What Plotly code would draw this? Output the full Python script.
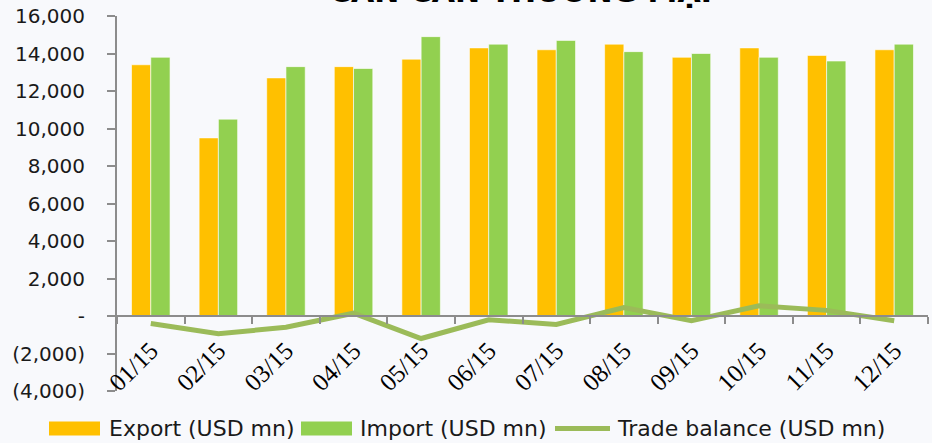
import plotly.graph_objects as go

months = ["01/15", "02/15", "03/15", "04/15", "05/15", "06/15",
          "07/15", "08/15", "09/15", "10/15", "11/15", "12/15"]
export_vals = [13400, 9500, 12700, 13300, 13700, 14300, 14200, 14500, 13800, 14300, 13900, 14200]
import_vals = [13800, 10500, 13300, 13200, 14900, 14500, 14700, 14100, 14000, 13800, 13600, 14500]
balance_vals = [-400, -950, -600, 150, -1200, -200, -450, 450, -250, 550, 300, -250]

y_tickvals = [-4000, -2000, 0, 2000, 4000, 6000, 8000, 10000, 12000, 14000, 16000]
y_ticktext = ["(4,000)", "(2,000)", "-", "2,000", "4,000", "6,000", "8,000",
              "10,000", "12,000", "14,000", "16,000"]

series_names = ["Export (USD mn)", "Import (USD mn)", "Trade balance (USD mn)"]
title_text = "CÁN CÂN THƯƠNG MẠI"

C_EXP = "#FFC000"
C_IMP = "#92D050"
C_BAL = "#9BBB59"
AXIS = "#8C8C8C"
BG = "#F8F9FC"
FONT = "DejaVu Sans"

# plot-area geometry in pixels
W, H = 932, 443
L, R, T, B = 117, 4, 16, 52
PW, PH = W - L - R, H - T - B


def px_x(px):
    return (px - L) / PW


def px_y(py):
    return (H - B - py) / PH


fig = go.Figure()
fig.add_trace(go.Bar(x=months, y=export_vals, name=series_names[0],
                     marker=dict(color=C_EXP, line=dict(color="rgba(255,255,255,0.6)", width=1))))
fig.add_trace(go.Bar(x=months, y=import_vals, name=series_names[1],
                     marker=dict(color=C_IMP, line=dict(color="rgba(255,255,255,0.6)", width=1))))
fig.add_trace(go.Scatter(x=months, y=balance_vals, name=series_names[2], mode="lines",
                         line=dict(color=C_BAL, width=5)))

ymin, ymax = -4000, 16000
zero_pos = (0 - ymin) / (ymax - ymin)

fig.update_layout(
    width=W, height=H,
    margin=dict(l=L, r=R, t=T, b=B, pad=0, autoexpand=False),
    paper_bgcolor=BG, plot_bgcolor=BG,
    barmode="group", bargap=0.43, bargroupgap=0,
    showlegend=False,
    font=dict(family=FONT, color="#1a1a1a", size=18),
    xaxis=dict(
        type="category", anchor="free", position=zero_pos, automargin=False,
        showline=True, linecolor=AXIS, linewidth=2,
        ticks="outside", ticklen=7, tickcolor=AXIS, tickwidth=2,
        tickson="boundaries", tickangle=-45,
        tickfont=dict(family="Liberation Serif", size=25, color="#000000"),
        ticklabelstandoff=9,
        showgrid=False, zeroline=False,
        range=[-0.5, 11.5],
    ),
    yaxis=dict(
        range=[ymin, ymax], tickvals=y_tickvals, ticktext=y_ticktext, automargin=False,
        showline=True, linecolor=AXIS, linewidth=2,
        ticks="outside", ticklen=8, tickcolor=AXIS, tickwidth=2,
        ticklabelstandoff=18,
        tickfont=dict(family=FONT, size=20, color="#1a1a1a"),
        showgrid=False, zeroline=False,
    ),
)

# title (cropped at top of image)
fig.add_annotation(text="<b>" + title_text + "</b>", xref="paper", yref="paper",
                   x=px_x(520), y=px_y(11), xanchor="center", yanchor="bottom",
                   showarrow=False, font=dict(family=FONT, size=30, color="#000000"))

# custom legend
leg_y = 428.5
keys = [
    (49, 100, C_EXP, "rect", 107, series_names[0]),
    (301, 352, C_IMP, "rect", 358, series_names[1]),
    (555, 610, C_BAL, "line", 615, series_names[2]),
]
for x0, x1, col, kind, tx, label in keys:
    if kind == "rect":
        fig.add_shape(type="rect", xref="paper", yref="paper",
                      x0=px_x(x0), x1=px_x(x1), y0=px_y(leg_y + 7), y1=px_y(leg_y - 7),
                      fillcolor=col, line=dict(width=0))
    else:
        fig.add_shape(type="line", xref="paper", yref="paper",
                      x0=px_x(x0), x1=px_x(x1), y0=px_y(leg_y), y1=px_y(leg_y),
                      line=dict(color=col, width=5))
    fig.add_annotation(text=label, xref="paper", yref="paper",
                       x=px_x(tx), y=px_y(leg_y), xanchor="left", yanchor="middle",
                       showarrow=False, font=dict(family=FONT, size=22, color="#1a1a1a"))

fig.write_html("out.html", config={"displayModeBar": False},
               post_script="document.body.style.margin='0px';document.body.style.overflow='hidden';")
